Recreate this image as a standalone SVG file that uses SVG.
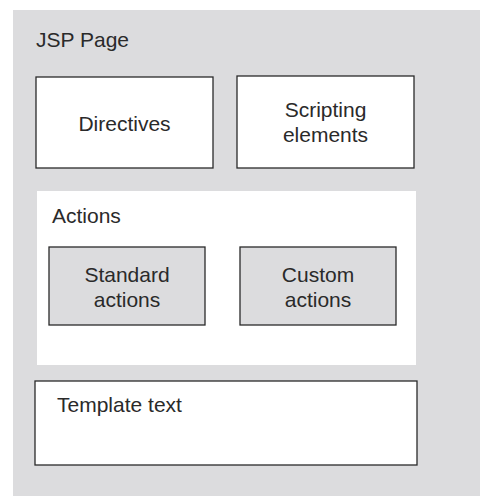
<svg xmlns="http://www.w3.org/2000/svg" width="480" height="496" viewBox="0 0 480 496">
<style>
text{font-family:"Liberation Sans",Arial,sans-serif;font-size:21px;fill:#2a2a2a}
.c{text-anchor:middle}
.box{fill:#fff;stroke:#2a2a2a;stroke-width:1.3}
.gbox{fill:#dcdcde;stroke:#2a2a2a;stroke-width:1.3}
</style>
<g id="page">
<rect x="13" y="10" width="467" height="486" fill="#dcdcde"/>
<text x="36" y="47">JSP Page</text>
</g>
<g id="directives">
<rect class="box" x="36" y="77" width="177" height="91"/>
<text class="c" x="124.5" y="131">Directives</text>
</g>
<g id="scripting">
<rect class="box" x="237" y="76" width="177" height="92"/>
<text class="c" x="325.5" y="117">Scripting</text>
<text class="c" x="325.5" y="142">elements</text>
</g>
<g id="actions">
<rect x="37" y="191" width="379" height="174" fill="#fff"/>
<text x="52" y="223">Actions</text>
</g>
<g id="standard">
<rect class="gbox" x="49" y="247" width="156" height="78"/>
<text class="c" x="127" y="282">Standard</text>
<text class="c" x="127" y="307">actions</text>
</g>
<g id="custom">
<rect class="gbox" x="240" y="247" width="156" height="78"/>
<text class="c" x="318" y="282">Custom</text>
<text class="c" x="318" y="307">actions</text>
</g>
<g id="template">
<rect class="box" x="35" y="381" width="382" height="84"/>
<text x="57" y="412">Template text</text>
</g>
<g id="connectors"/>
</svg>
